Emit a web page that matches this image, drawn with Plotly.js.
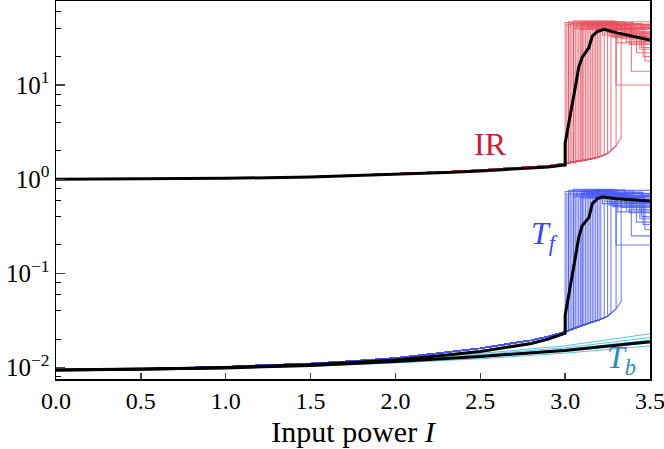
<!DOCTYPE html>
<html>
<head>
<meta charset="utf-8">
<script src="https://cdn.plot.ly/plotly-3.0.1.min.js"></script>
<style>
  html, body { margin: 0; padding: 0; background: white; }
  #chart { width: 664px; height: 449px; }
</style>
</head>
<body>
<div id="chart"></div>
<script>
// shared x grid for the pre-jump part of the runs
const baseX = [0, 0.5, 1.0, 1.5, 1.75, 2.0, 2.3, 2.5, 2.8, 2.9, 3.0, 3.05, 3.1, 3.15, 3.2, 3.25, 3.3];
const irBase = [1.0, 1.006, 1.022, 1.06, 1.10, 1.135, 1.20, 1.25, 1.34, 1.39, 1.47, 1.52, 1.58, 1.64, 1.72, 1.88, 2.25];
const tfBase = [0.0094, 0.0097, 0.0102, 0.011, 0.0117, 0.0126, 0.0145, 0.016, 0.0195, 0.0213, 0.024, 0.026, 0.028, 0.030, 0.032, 0.035, 0.042];

// one entry per run: where it jumps, where it drops back (null = no drop)
const runJump = [3.00, 3.01, 3.02, 3.02, 3.03, 3.04, 3.05, 3.05, 3.06, 3.07, 3.08, 3.09, 3.10, 3.10, 3.11,
                 3.12, 3.13, 3.14, 3.15, 3.16, 3.17, 3.18, 3.19, 3.20, 3.21, 3.23, 3.25, 3.27, 3.30, 3.33];
const runDrop = [3.30, null, 3.31, 3.22, 3.45, null, 3.29, 3.38, null, 3.24, 3.42, 3.33, null, 3.36, 3.27,
                 3.47, null, 3.40, 3.26, null, 3.44, 3.35, null, 3.28, null, 3.39, null, 3.46, null, null];

const irFrom = [1.47, 1.48, 1.49, 1.49, 1.50, 1.51, 1.52, 1.52, 1.53, 1.54, 1.55, 1.57, 1.58, 1.58, 1.59,
                1.60, 1.61, 1.63, 1.64, 1.65, 1.67, 1.68, 1.70, 1.72, 1.74, 1.80, 1.88, 2.0, 2.25, 2.75];
const irPeak = [46, 44, 47, 42, 45, 40, 48, 43, 41, 46, 39, 44, 47, 42, 45,
                40, 43, 46, 41, 44, 38, 47, 42, 45, 40, 43, 39, 44, 41, 37];
const irAfter = [10, null, 28, 34, 25, null, 33, 27, null, 36, 22, 31, null, 29, 35,
                 18, null, 30, 33, null, 24, 35, null, 32, null, 14, null, 20, null, null];

const tfFrom = [0.024, 0.0244, 0.0248, 0.0248, 0.0252, 0.0256, 0.026, 0.026, 0.0264, 0.0268, 0.0272, 0.0276, 0.028, 0.028, 0.0284,
                0.0288, 0.0292, 0.0296, 0.030, 0.0304, 0.0308, 0.0312, 0.0316, 0.032, 0.0326, 0.0338, 0.035, 0.038, 0.042, 0.050];
const tfPeak = [0.74, 0.70, 0.76, 0.68, 0.73, 0.65, 0.78, 0.69, 0.66, 0.74, 0.63, 0.71, 0.76, 0.68, 0.72,
                0.64, 0.70, 0.75, 0.66, 0.71, 0.62, 0.77, 0.68, 0.73, 0.65, 0.70, 0.63, 0.72, 0.67, 0.61];
const tfAfter = [0.20, null, 0.45, 0.55, 0.40, null, 0.52, 0.44, null, 0.58, 0.35, 0.50, null, 0.47, 0.56,
                 0.29, null, 0.48, 0.53, null, 0.38, 0.56, null, 0.51, null, 0.25, null, 0.33, null, null];

// T_b runs never jump
const tbX = [0, 0.5, 1.0, 1.5, 2.0, 2.5, 3.0, 3.5];
const tbRuns = [
  [0.0094, 0.0095, 0.0098, 0.0103, 0.0112, 0.0124, 0.0142, 0.0170],
  [0.0094, 0.0096, 0.0099, 0.0105, 0.0115, 0.0129, 0.0150, 0.0182],
  [0.0094, 0.0096, 0.0100, 0.0106, 0.0117, 0.0133, 0.0156, 0.0195],
  [0.0094, 0.0096, 0.0100, 0.0107, 0.0119, 0.0137, 0.0162, 0.0208],
  [0.0094, 0.0097, 0.0101, 0.0108, 0.0121, 0.0141, 0.0170, 0.0228],
];

// averages (black)
const irMeanX = [0, 0.5, 1.0, 1.5, 1.75, 2.0, 2.3, 2.5, 2.8, 2.9, 3.0, 3.0, 3.02, 3.04, 3.06, 3.08, 3.10, 3.14, 3.16, 3.19, 3.23, 3.3, 3.4, 3.5];
const irMean = [1.0, 1.005, 1.02, 1.055, 1.09, 1.12, 1.18, 1.22, 1.30, 1.35, 1.42, 2.4, 3.8, 5.8, 9.5, 15.4, 19.6, 25, 33, 37, 39, 36, 33, 30];
const tfMeanX = [0, 0.5, 1.0, 1.5, 1.75, 2.0, 2.3, 2.5, 2.8, 2.9, 3.0, 3.0, 3.02, 3.03, 3.05, 3.08, 3.10, 3.14, 3.16, 3.19, 3.22, 3.3, 3.5];
const tfMean = [0.0094, 0.0096, 0.0100, 0.0107, 0.0113, 0.0120, 0.0136, 0.0148, 0.0180, 0.0200, 0.0232, 0.036, 0.057, 0.071, 0.116, 0.24, 0.32, 0.39, 0.55, 0.62, 0.65, 0.62, 0.585];
const tbMean = [0.0094, 0.0096, 0.0099, 0.0105, 0.0116, 0.0131, 0.0152, 0.0188];

function runTrace(i, base, from, peak, after, color) {
  const x = [], y = [];
  for (let k = 0; k < baseX.length; k++) {
    if (baseX[k] < runJump[i]) { x.push(baseX[k]); y.push(base[k]); }
  }
  x.push(runJump[i], runJump[i]); y.push(from[i], peak[i]);
  if (runDrop[i] !== null) {
    x.push(runDrop[i], runDrop[i], 3.5); y.push(peak[i], after[i], after[i]);
  } else {
    x.push(3.5); y.push(peak[i]);
  }
  return {
    type: "scatter", mode: "lines", x: x, y: y,
    line: { color: color, width: 1.1 }, opacity: 0.75,
    hoverinfo: "skip", showlegend: false,
  };
}

let traces = [];
for (let i = 0; i < runJump.length; i++) {
  traces.push(runTrace(i, irBase, irFrom, irPeak, irAfter, "#e8505f"));
}
for (let i = 0; i < runJump.length; i++) {
  traces.push(runTrace(i, tfBase, tfFrom, tfPeak, tfAfter, "#4655f5"));
}
for (let i = 0; i < tbRuns.length; i++) {
  traces.push({
    type: "scatter", mode: "lines", x: tbX, y: tbRuns[i],
    line: { color: "#3cb9dd", width: 1 }, opacity: 0.85,
    hoverinfo: "skip", showlegend: false,
  });
}
const blackLine = { color: "black", width: 3 };
traces.push({ type: "scatter", mode: "lines", x: irMeanX, y: irMean, line: blackLine, showlegend: false });
traces.push({ type: "scatter", mode: "lines", x: tfMeanX, y: tfMean, line: blackLine, showlegend: false });
traces.push({ type: "scatter", mode: "lines", x: tbX, y: tbMean, line: blackLine, showlegend: false });

const serif = "Liberation Serif, DejaVu Serif, serif";

const layout = {
  width: 664,
  height: 449,
  margin: { l: 56, r: 14, t: 1, b: 70 },
  paper_bgcolor: "white",
  plot_bgcolor: "white",
  showlegend: false,
  font: { family: serif, color: "black", size: 24 },
  xaxis: {
    range: [0, 3.5],
    tickvals: [0, 0.5, 1.0, 1.5, 2.0, 2.5, 3.0, 3.5],
    tickformat: ".1f",
    ticks: "inside",
    ticklen: 6,
    tickwidth: 1.3,
    ticklabeloverflow: "allow",
    showline: true,
    mirror: true,
    linecolor: "black",
    linewidth: 1.5,
    showgrid: false,
    zeroline: false,
    tickfont: { size: 24 },
    title: { text: "Input power <i>I</i>", font: { size: 30 }, standoff: 7 },
  },
  yaxis: {
    type: "log",
    range: [-2.122, 1.892],
    tickvals: [0.01, 0.1, 1, 10],
    ticktext: ["10<sup>−2</sup>", "10<sup>−1</sup>", "10<sup>0</sup>", "10<sup>1</sup>"],
    ticks: "inside",
    ticklen: 9,
    tickwidth: 1.3,
    ticklabeloverflow: "allow",
    minor: {
      tickvals: [0.008, 0.02, 0.04, 0.06, 0.08, 0.2, 0.4, 0.6, 0.8, 2, 4, 6, 8, 20, 40, 60],
      ticks: "inside",
      ticklen: 5,
      tickwidth: 1,
      tickcolor: "black",
      showgrid: false,
    },
    showline: true,
    mirror: true,
    linecolor: "black",
    linewidth: 1.5,
    showgrid: false,
    zeroline: false,
    tickfont: { size: 25 },
  },
  annotations: [
    { x: 2.56, y: 0.374, text: "IR", showarrow: false, font: { size: 32, color: "#c8203a" } },
    { x: 2.88, y: -0.6, text: "<i>T</i><sub><i>f</i></sub>", showarrow: false, font: { size: 32, color: "#3a47f0" } },
    { x: 3.33, y: -1.92, text: "<i>T</i><sub><i>b</i></sub>", showarrow: false, font: { size: 32, color: "#2a8bb5" } },
  ],
};

Plotly.newPlot("chart", traces, layout, { staticPlot: true, displayModeBar: false });
</script>
</body>
</html>
